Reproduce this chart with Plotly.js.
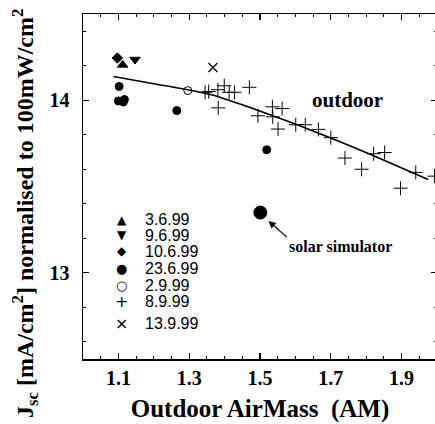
<!DOCTYPE html>
<html><head><meta charset="utf-8">
<script src="https://cdn.plot.ly/plotly-3.0.1.min.js"></script>
<style>html,body{margin:0;padding:0;overflow:hidden;background:#fff}</style>
</head><body>
<div id="chart" style="width:440px;height:424px"></div>
<script>
// ---- data ----
const tri_up_x = [1.112], tri_up_y = [14.205];            // 3.6.99
const tri_dn_x = [1.147], tri_dn_y = [14.236];            // 9.6.99
const diamond_x = [1.097], diamond_y = [14.245];          // 10.6.99
const dot_x = [1.102, 1.100, 1.114, 1.117, 1.265, 1.519]; // 23.6.99
const dot_y = [14.080, 13.996, 13.990, 14.004, 13.940, 13.713];
const open_x = [1.296], open_y = [14.056];                // 2.9.99
const plus_x = [1.345, 1.355, 1.381, 1.399, 1.413, 1.428, 1.470, 1.382, 1.494, 1.535, 1.5625, 1.536, 1.551, 1.601, 1.628, 1.665, 1.700, 1.740, 1.787, 1.821, 1.852, 1.897, 1.940, 1.993]; // 8.9.99
const plus_y = [14.046, 14.050, 14.061, 14.084, 14.046, 14.046, 14.075, 13.956, 13.910, 13.962, 13.952, 13.904, 13.833, 13.858, 13.858, 13.831, 13.783, 13.665, 13.600, 13.690, 13.697, 13.490, 13.582, 13.560];
const cross_x = [1.367], cross_y = [14.19];               // 13.9.99
const sim_x = [1.501], sim_y = [13.349];                  // solar simulator
const fit_x = [1.086, 1.2, 1.296, 1.368, 1.42, 1.472, 1.594, 1.698, 1.821, 1.975];
const fit_y = [14.138, 14.096, 14.061, 14.029, 13.994, 13.958, 13.866, 13.783, 13.678, 13.540];
const legendLabels = ['3.6.99', '9.6.99', '10.6.99', '23.6.99', '2.9.99', '8.9.99', '13.9.99'];
const legendSymbols = ['\u25B2', '\u25BC', '\u25C6', '\u25CF', '\u25CB', '+', '\u00D7'];
const xTickLabels = ['1.1', '1.3', '1.5', '1.7', '1.9'];
const yTickLabels = ['13', '14'];

// ---- traces ----
const K = '#000';
function mk(x, y, symbol, size, extra) {
  return Object.assign({x, y, type: 'scatter', mode: 'markers', showlegend: false, hoverinfo: 'skip',
    marker: {symbol, size, color: K, line: {color: K, width: 1}}}, extra || {});
}
const traces = [
  {x: fit_x, y: fit_y, type: 'scatter', mode: 'lines', line: {color: K, width: 1.6, shape: 'spline', smoothing: 0.6}, showlegend: false, hoverinfo: 'skip'},
  mk(tri_up_x, tri_up_y, 'triangle-up', 9),
  mk(tri_dn_x, tri_dn_y, 'triangle-down', 9),
  mk(diamond_x, diamond_y, 'diamond', 8),
  mk(dot_x, dot_y, 'circle', 8),
  {x: open_x, y: open_y, type: 'scatter', mode: 'markers', showlegend: false, hoverinfo: 'skip',
   marker: {symbol: 'circle-open', size: 8, color: K, line: {color: K, width: 1}}},
  {x: plus_x, y: plus_y, type: 'scatter', mode: 'markers', showlegend: false, hoverinfo: 'skip',
   marker: {symbol: 'cross-thin-open', size: 10, color: K, line: {color: K, width: 1}}},
  {x: cross_x, y: cross_y, type: 'scatter', mode: 'markers', showlegend: false, hoverinfo: 'skip',
   marker: {symbol: 'x-thin-open', size: 9, color: K, line: {color: K, width: 1.2}}},
  mk(sim_x, sim_y, 'circle', 13)
];

// ---- annotations ----
const serifB = {family: 'Liberation Serif, Times New Roman, serif', color: K, weight: 'bold'};
const ann = [];
const rowPx = [219.5, 235.5, 251.5, 268, 285, 301.5, 323.5];
const symSize = [12, 12, 12, 13, 13, 16, 16];
const plotTop = 14, plotBot = 359, plotL = 83, plotW = 354;
legendLabels.forEach((lab, i) => {
  const py = (plotBot - rowPx[i]) / (plotBot - plotTop);
  ann.push({xref: 'paper', yref: 'paper', x: (121.5 - plotL) / plotW, y: py, text: legendSymbols[i], showarrow: false,
    xanchor: 'center', yanchor: 'middle', font: {family: 'DejaVu Sans', size: symSize[i], color: K}});
  ann.push({xref: 'paper', yref: 'paper', x: (143 - plotL) / plotW, y: py, text: lab, showarrow: false,
    xanchor: 'left', yanchor: 'middle', font: {family: 'Liberation Sans, Arial, sans-serif', size: 16, color: K}});
});
ann.push({xref: 'x', yref: 'y', x: 1.746, y: 14.0, text: 'outdoor', showarrow: false, xanchor: 'center', yanchor: 'middle',
  font: Object.assign({size: 21}, serifB)});
ann.push({xref: 'x', yref: 'y', x: 1.726, y: 13.152, text: 'solar simulator', showarrow: false, xanchor: 'center', yanchor: 'middle',
  font: Object.assign({size: 16}, serifB)});
ann.push({xref: 'x', yref: 'y', x: 1.524, y: 13.30, axref: 'x', ayref: 'y', ax: 1.580, ay: 13.199, text: '',
  showarrow: true, arrowhead: 2, arrowsize: 1.2, arrowwidth: 1.2, arrowcolor: K});
ann.push({xref: 'paper', yref: 'paper', x: (25 - plotL) / plotW, y: (plotBot - 214) / (plotBot - plotTop), textangle: -90,
  text: 'J<sub>sc</sub> [mA/cm<sup>2</sup>] normalised to 100mW/cm<sup>2</sup>', showarrow: false,
  xanchor: 'center', yanchor: 'middle', font: Object.assign({size: 24}, serifB)});

const layout = {
  width: 440, height: 424,
  margin: {l: 83, r: 3, t: 14, b: 65},
  paper_bgcolor: '#fff', plot_bgcolor: '#fff',
  showlegend: false,
  xaxis: {
    range: [1.0, 2.0], tickmode: 'array', tickvals: xTickLabels.map(Number), ticktext: xTickLabels,
    ticks: 'inside', ticklen: 6, tickwidth: 1.3, tickcolor: K,
    minor: {tick0: 1.0, dtick: 0.05, ticks: 'inside', ticklen: 3, tickwidth: 1, tickcolor: K, showgrid: false},
    showline: true, linecolor: K, linewidth: 1.5, mirror: 'ticks', showgrid: false, zeroline: false,
    tickfont: Object.assign({size: 20}, serifB),
    title: {text: 'Outdoor AirMass&nbsp;&nbsp;(AM)', font: Object.assign({size: 25}, serifB), standoff: 12}
  },
  yaxis: {
    range: [12.5, 14.5], tickmode: 'array', tickvals: yTickLabels.map(Number), ticktext: yTickLabels,
    ticks: 'inside', ticklen: 6, tickwidth: 1.3, tickcolor: K,
    minor: {tick0: 12.6, dtick: 0.2, ticks: 'inside', ticklen: 3, tickwidth: 1, tickcolor: K, showgrid: false},
    showline: true, linecolor: K, linewidth: 1.5, mirror: 'ticks', showgrid: false, zeroline: false,
    tickfont: Object.assign({size: 20}, serifB), ticklabelstandoff: 8
  },
  annotations: ann
};
Plotly.newPlot('chart', traces, layout, {staticPlot: true, displayModeBar: false});
</script>
</body></html>
